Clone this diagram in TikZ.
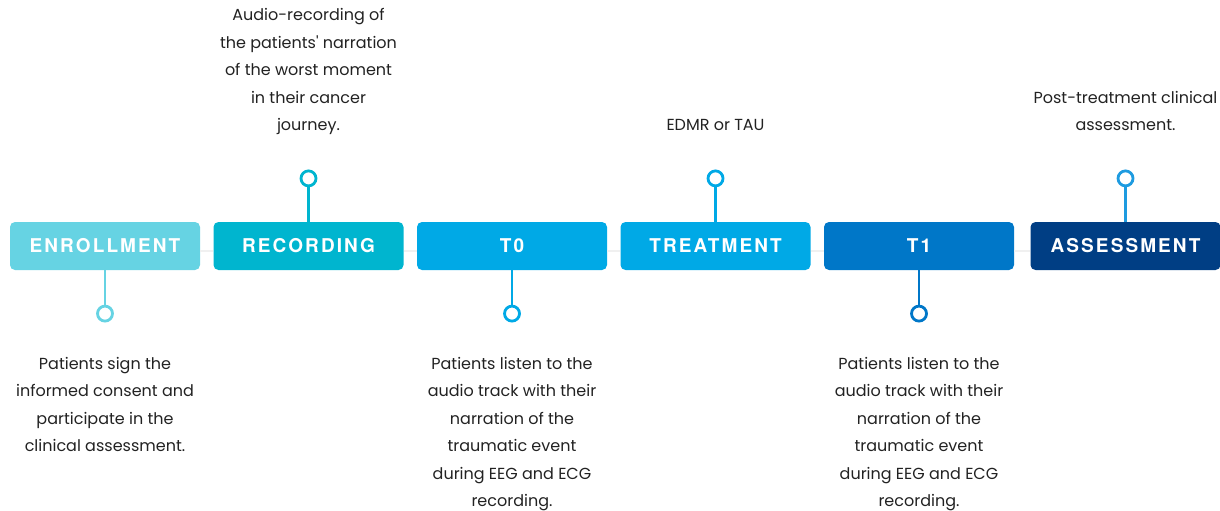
\documentclass[tikz,border=0pt]{standalone}
\usepackage{fontspec}
\setmainfont{Poppins}[Ligatures=TeXOff]
\newfontfamily\labelfont[LetterSpace=11]{TeX Gyre Heros}
\usetikzlibrary{positioning}

\definecolor{enrollc}{HTML}{66D3E3}
\definecolor{recc}{HTML}{00B5CF}
\definecolor{tzeroc}{HTML}{00A9E6}
\definecolor{treatc}{HTML}{00A9E6}
\definecolor{tonec}{HTML}{0077C8}
\definecolor{assessc}{HTML}{003E84}
\definecolor{assesspin}{HTML}{1E9BE0}
\definecolor{notec}{HTML}{222222}

\tikzset{
  stage/.style={fill=#1, rounded corners=5pt, minimum width=190pt, minimum height=48pt,
    inner sep=0pt, text=white, font=\labelfont\bfseries\fontsize{19}{19}\selectfont},
  pin/.style={circle, draw=#1, fill=white, line width=2.8pt, minimum size=15pt, inner sep=0pt},
  stem/.style={draw=#1, line width=2.8pt},
  note/.style={align=center, inner sep=0pt, text depth=4pt, text=notec,
    font=\fontsize{16}{27.5}\selectfont},
  track/.style={draw=black!6, line width=2pt},
}

\begin{document}
\begin{tikzpicture}[x=1pt,y=-1pt]
\useasboundingbox (0,0) rectangle (1220,511);

% stages along the timeline
\foreach \name/\txt/\x/\col in {enroll/ENROLLMENT/105/enrollc, rec/RECORDING/308.5/recc,
    tzero/T0/512/tzeroc, treat/TREATMENT/715.5/treatc, tone/T1/919/tonec,
    assess/ASSESSMENT/1125.5/assessc}
  \node[stage=\col] (\name) at (\x,246) {\txt};

% thin track between the boxes
\foreach \a/\b in {enroll/rec, rec/tzero, tzero/treat, treat/tone, tone/assess}
  \draw[track] ([yshift=-5pt]\a.east) -- ([yshift=-5pt]\b.west);

% pins above
\foreach \name/\col in {rec/recc, treat/treatc, assess/assesspin} {
  \node[pin=\col, above=34.5pt of \name] (\name-pin) {};
  \draw[stem=\col] (\name.north) -- (\name-pin);
}

% pins below
\foreach \name/\col in {enroll/enrollc, tzero/tzeroc, tone/tonec} {
  \node[pin=\col, below=34.5pt of \name] (\name-pin) {};
  \draw[stem=\col] (\name.south) -- (\name-pin);
}

\node[note, above=34.5pt of rec-pin] (rec-note) {Audio-recording of\\the patients' narration\\of the worst moment\\in their cancer\\journey.};
\node[note, above=34.5pt of treat-pin] (treat-note) {EDMR or TAU};
\node[note, above=34.5pt of assess-pin] (assess-note) {Post-treatment clinical\\assessment.};

\node[note, below=34.5pt of enroll-pin] (enroll-note) {Patients sign the\\informed consent and\\participate in the\\clinical assessment.};
\node[note, below=34.5pt of tzero-pin] (tzero-note) {Patients listen to the\\audio track with their\\narration of the\\traumatic event\\during EEG and ECG\\recording.};
\node[note, below=34.5pt of tone-pin] (tone-note) {Patients listen to the\\audio track with their\\narration of the\\traumatic event\\during EEG and ECG\\recording.};
\end{tikzpicture}
\end{document}
